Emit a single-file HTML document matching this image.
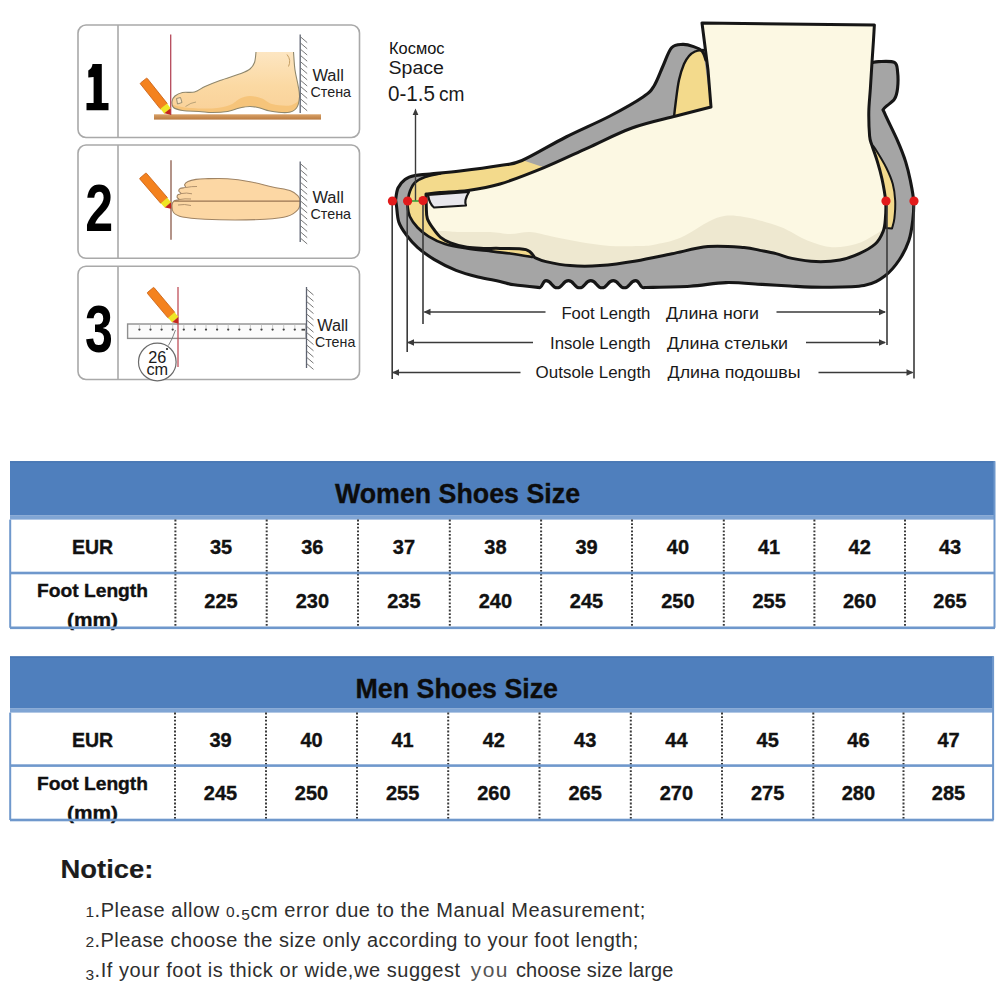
<!DOCTYPE html>
<html><head><meta charset="utf-8">
<style>
html,body{margin:0;padding:0;background:#fff;}
body{width:1000px;height:1000px;position:relative;overflow:hidden;font-family:"Liberation Sans",sans-serif;}
svg{position:absolute;left:0;top:0;display:block;}
</style></head><body>
<svg width="1000" height="1000" viewBox="0 0 1000 1000">
<rect x="0" y="0" width="1000" height="1000" fill="#fff"/>
<rect x="78" y="25" width="281.5" height="112.5" rx="8" ry="8" fill="#fff" stroke="#a9a9a9" stroke-width="1.6"/><line x1="118" y1="25" x2="118" y2="137.5" stroke="#a9a9a9" stroke-width="1.6"/><rect x="78" y="145" width="281.5" height="113.30000000000001" rx="8" ry="8" fill="#fff" stroke="#a9a9a9" stroke-width="1.6"/><line x1="118" y1="145" x2="118" y2="258.3" stroke="#a9a9a9" stroke-width="1.6"/><rect x="78" y="266.2" width="281.5" height="113.30000000000001" rx="8" ry="8" fill="#fff" stroke="#a9a9a9" stroke-width="1.6"/><line x1="118" y1="266.2" x2="118" y2="379.5" stroke="#a9a9a9" stroke-width="1.6"/><path d="M92.5,64 L101.8,64 L101.8,103 L108.5,103 L108.5,110.2 L86.5,110.2 L86.5,103 L93.6,103 L93.6,77 L88.3,77.5 L88.3,70.5 Q92,68.5 92.5,64 Z" fill="#000"/><text x="99.3" y="230.6" font-family="Liberation Sans, sans-serif" font-weight="bold" font-size="66" text-anchor="middle" fill="#000" transform="translate(99.3 0) scale(0.76 1) translate(-99.3 0)">2</text><text x="99" y="352.4" font-family="Liberation Sans, sans-serif" font-weight="bold" font-size="66" text-anchor="middle" fill="#000" transform="translate(99 0) scale(0.76 1) translate(-99 0)">3</text>
<defs><linearGradient id="fg1" x1="0" y1="0" x2="0" y2="1"><stop offset="0" stop-color="#fde6c2"/><stop offset="0.55" stop-color="#fbd9a3"/><stop offset="1" stop-color="#f9d199"/></linearGradient>
<linearGradient id="flr" x1="0" y1="0" x2="0" y2="1"><stop offset="0" stop-color="#d9a268"/><stop offset="1" stop-color="#b97a40"/></linearGradient>
<clipPath id="f1c"><path d="M256.0,52.0 C255.8,53.8 255.5,59.7 254.5,62.5 C253.5,65.3 252.2,67.2 250.0,69.0 C247.8,70.8 246.0,71.6 241.0,73.5 C236.0,75.4 226.0,78.3 220.0,80.5 C214.0,82.7 209.2,84.6 205.0,86.5 C200.8,88.4 198.2,91.0 194.5,92.0 C190.8,93.0 185.8,91.8 182.5,92.5 C179.2,93.2 176.8,94.5 175.0,96.0 C173.2,97.5 172.2,99.6 172.0,101.5 C171.8,103.4 171.8,106.0 173.5,107.5 C175.2,109.0 178.2,109.8 182.5,110.5 C186.8,111.2 194.0,111.2 199.0,111.5 C204.0,111.8 207.8,112.5 212.5,112.5 C217.2,112.5 223.0,112.2 227.5,111.5 C232.0,110.8 235.8,108.8 239.5,108.0 C243.2,107.2 246.6,106.5 250.0,106.5 C253.4,106.5 256.7,107.2 260.0,108.0 C263.3,108.8 265.4,110.2 270.0,111.0 C274.6,111.8 283.1,113.0 287.5,112.5 C291.9,112.0 294.5,110.6 296.5,108.0 C298.5,105.4 299.2,100.8 299.5,97.0 C299.8,93.2 298.8,89.5 298.0,85.0 C297.2,80.5 295.8,75.5 295.0,70.0 C294.2,64.5 293.8,55.0 293.5,52.0 Z"/></clipPath></defs>
<path d="M256.0,52.0 C255.8,53.8 255.5,59.7 254.5,62.5 C253.5,65.3 252.2,67.2 250.0,69.0 C247.8,70.8 246.0,71.6 241.0,73.5 C236.0,75.4 226.0,78.3 220.0,80.5 C214.0,82.7 209.2,84.6 205.0,86.5 C200.8,88.4 198.2,91.0 194.5,92.0 C190.8,93.0 185.8,91.8 182.5,92.5 C179.2,93.2 176.8,94.5 175.0,96.0 C173.2,97.5 172.2,99.6 172.0,101.5 C171.8,103.4 171.8,106.0 173.5,107.5 C175.2,109.0 178.2,109.8 182.5,110.5 C186.8,111.2 194.0,111.2 199.0,111.5 C204.0,111.8 207.8,112.5 212.5,112.5 C217.2,112.5 223.0,112.2 227.5,111.5 C232.0,110.8 235.8,108.8 239.5,108.0 C243.2,107.2 246.6,106.5 250.0,106.5 C253.4,106.5 256.7,107.2 260.0,108.0 C263.3,108.8 265.4,110.2 270.0,111.0 C274.6,111.8 283.1,113.0 287.5,112.5 C291.9,112.0 294.5,110.6 296.5,108.0 C298.5,105.4 299.2,100.8 299.5,97.0 C299.8,93.2 298.8,89.5 298.0,85.0 C297.2,80.5 295.8,75.5 295.0,70.0 C294.2,64.5 293.8,55.0 293.5,52.0 Z" fill="url(#fg1)"/>
<path d="M170.0,104.0 C172.5,104.6 178.0,106.8 185.0,107.5 C192.0,108.2 204.5,108.9 212.0,108.5 C219.5,108.1 225.3,106.7 230.0,105.0 C234.7,103.3 236.7,100.0 240.0,98.5 C243.3,97.0 246.3,96.0 250.0,96.0 C253.7,96.0 258.3,97.2 262.0,98.5 C265.7,99.8 267.3,102.8 272.0,104.0 C276.7,105.2 285.2,106.3 290.0,105.5 C294.8,104.7 299.2,100.1 301.0,99.0 L301.0,120.0 L170.0,120.0 Z" fill="#f6c47a" clip-path="url(#f1c)"/>
<path d="M256.0,52.0 C255.8,53.8 255.5,59.7 254.5,62.5 C253.5,65.3 252.2,67.2 250.0,69.0 C247.8,70.8 246.0,71.6 241.0,73.5 C236.0,75.4 226.0,78.3 220.0,80.5 C214.0,82.7 209.2,84.6 205.0,86.5 C200.8,88.4 198.2,91.0 194.5,92.0 C190.8,93.0 185.8,91.8 182.5,92.5 C179.2,93.2 176.8,94.5 175.0,96.0 C173.2,97.5 172.2,99.6 172.0,101.5 C171.8,103.4 171.8,106.0 173.5,107.5 C175.2,109.0 178.2,109.8 182.5,110.5 C186.8,111.2 194.0,111.2 199.0,111.5 C204.0,111.8 207.8,112.5 212.5,112.5 C217.2,112.5 223.0,112.2 227.5,111.5 C232.0,110.8 235.8,108.8 239.5,108.0 C243.2,107.2 246.6,106.5 250.0,106.5 C253.4,106.5 256.7,107.2 260.0,108.0 C263.3,108.8 265.4,110.2 270.0,111.0 C274.6,111.8 283.1,113.0 287.5,112.5 C291.9,112.0 294.5,110.6 296.5,108.0 C298.5,105.4 299.2,100.8 299.5,97.0 C299.8,93.2 298.8,89.5 298.0,85.0 C297.2,80.5 295.8,75.5 295.0,70.0 C294.2,64.5 293.8,55.0 293.5,52.0" fill="none" stroke="#8f876c" stroke-width="1.1"/>
<path d="M176.5,98.5 L180.5,97.5 L182,102.5 L177.5,104 Z" fill="#fde4bf" stroke="#8f876c" stroke-width="0.9" stroke-linejoin="round"/>
<path d="M185.5,106.5 Q191,102.5 196,102" fill="none" stroke="#a8946c" stroke-width="0.8"/>
<path d="M287,54.5 Q291.5,60 288.5,66.5" fill="none" stroke="#c7a064" stroke-width="1"/>
<rect x="154" y="114.3" width="167" height="5.3" fill="url(#flr)"/>
<line x1="170.7" y1="34.6" x2="170.7" y2="115" stroke="#b5485a" stroke-width="1.3"/><line x1="300.2" y1="34.6" x2="300.2" y2="113" stroke="#5c6270" stroke-width="1.3"/><line x1="300.2" y1="36.6" x2="307.2" y2="42.6" stroke="#777" stroke-width="1"/><line x1="300.2" y1="42.8" x2="307.2" y2="48.8" stroke="#777" stroke-width="1"/><line x1="300.2" y1="49" x2="307.2" y2="55" stroke="#777" stroke-width="1"/><line x1="300.2" y1="55.2" x2="307.2" y2="61.2" stroke="#777" stroke-width="1"/><line x1="300.2" y1="61.4" x2="307.2" y2="67.4" stroke="#777" stroke-width="1"/><line x1="300.2" y1="67.6" x2="307.2" y2="73.6" stroke="#777" stroke-width="1"/><line x1="300.2" y1="73.8" x2="307.2" y2="79.8" stroke="#777" stroke-width="1"/><line x1="300.2" y1="80" x2="307.2" y2="86" stroke="#777" stroke-width="1"/><line x1="300.2" y1="86.2" x2="307.2" y2="92.2" stroke="#777" stroke-width="1"/><line x1="300.2" y1="92.4" x2="307.2" y2="98.4" stroke="#777" stroke-width="1"/><line x1="300.2" y1="98.6" x2="307.2" y2="104.6" stroke="#777" stroke-width="1"/><line x1="300.2" y1="104.8" x2="307.2" y2="110.8" stroke="#777" stroke-width="1"/><g transform="translate(170.2,114.3) rotate(51.5)">
<rect x="-43" y="-4.4" width="33" height="8.8" rx="0.8" fill="#f4821e" stroke="#c9641a" stroke-width="0.8"/>
<rect x="-10.4" y="-4.2" width="6.2" height="8.4" fill="#efe626"/>
<path d="M-4.4,-4 L0.6,0 L-4.4,4 Z" fill="#c4261c"/>
</g><text x="312.4" y="81" font-family="Liberation Sans, sans-serif" font-size="16" fill="#222" textLength="31.4" lengthAdjust="spacingAndGlyphs">Wall</text><text x="310.5" y="97.4" font-family="Liberation Sans, sans-serif" font-size="14.8" fill="#222" textLength="40.5" lengthAdjust="spacingAndGlyphs">Стена</text><path d="M172.0,205.0 C172.1,203.1 172.8,201.9 174.0,201.0 C175.2,200.1 178.5,200.2 179.0,199.6 C179.5,199.0 177.4,198.3 177.2,197.5 C177.0,196.7 177.2,195.5 177.8,194.8 C178.4,194.2 180.8,194.2 181.0,193.6 C181.2,193.0 178.9,191.9 178.8,191.0 C178.7,190.1 179.4,188.9 180.5,188.3 C181.6,187.7 184.8,188.0 185.5,187.4 C186.2,186.8 184.2,185.6 184.6,184.6 C185.0,183.6 186.1,182.5 188.0,181.6 C189.9,180.7 193.2,179.9 196.0,179.4 C198.8,178.9 199.8,178.8 205.0,178.7 C210.2,178.6 220.0,178.2 227.5,178.7 C235.0,179.2 242.5,180.3 250.0,181.7 C257.5,183.1 265.8,185.5 272.5,187.0 C279.2,188.5 286.2,189.2 290.5,190.7 C294.8,192.2 296.4,194.2 298.0,196.0 C299.6,197.8 300.2,198.9 300.2,201.2 C300.2,203.4 300.1,207.0 298.0,209.5 C295.9,212.0 293.0,214.6 287.5,216.2 C282.0,217.8 273.8,218.6 265.0,219.2 C256.2,219.8 245.0,220.0 235.0,220.0 C225.0,220.0 213.8,219.7 205.0,219.2 C196.2,218.7 187.8,218.1 182.5,217.0 C177.2,215.9 175.2,214.5 173.5,212.5 C171.8,210.5 171.9,206.9 172.0,205.0 Z" fill="#fcd7a4" stroke="#a08464" stroke-width="1.1"/><path d="M186,187.5 Q191.5,186.3 197,186.5" fill="none" stroke="#a98a66" stroke-width="0.9"/><path d="M181,193.6 Q186.5,192.4 192,193.8" fill="none" stroke="#a98a66" stroke-width="0.9"/><path d="M179,199.6 Q185.0,198.4 191,199" fill="none" stroke="#a98a66" stroke-width="0.9"/><path d="M178,205 Q184.5,203.8 191,205.5" fill="none" stroke="#a98a66" stroke-width="0.9"/><line x1="174.3" y1="201.2" x2="300.2" y2="201.2" stroke="#9a7452" stroke-width="1.3"/><line x1="171" y1="160.3" x2="171" y2="239.7" stroke="#8a5a4a" stroke-width="1.3"/><line x1="300.2" y1="161.5" x2="300.2" y2="242" stroke="#5c6270" stroke-width="1.3"/><line x1="300.2" y1="163.5" x2="307.2" y2="169.5" stroke="#777" stroke-width="1"/><line x1="300.2" y1="169.7" x2="307.2" y2="175.7" stroke="#777" stroke-width="1"/><line x1="300.2" y1="175.9" x2="307.2" y2="181.9" stroke="#777" stroke-width="1"/><line x1="300.2" y1="182.1" x2="307.2" y2="188.1" stroke="#777" stroke-width="1"/><line x1="300.2" y1="188.3" x2="307.2" y2="194.3" stroke="#777" stroke-width="1"/><line x1="300.2" y1="194.5" x2="307.2" y2="200.5" stroke="#777" stroke-width="1"/><line x1="300.2" y1="200.7" x2="307.2" y2="206.7" stroke="#777" stroke-width="1"/><line x1="300.2" y1="206.9" x2="307.2" y2="212.9" stroke="#777" stroke-width="1"/><line x1="300.2" y1="213.1" x2="307.2" y2="219.1" stroke="#777" stroke-width="1"/><line x1="300.2" y1="219.3" x2="307.2" y2="225.3" stroke="#777" stroke-width="1"/><line x1="300.2" y1="225.5" x2="307.2" y2="231.5" stroke="#777" stroke-width="1"/><line x1="300.2" y1="231.7" x2="307.2" y2="237.7" stroke="#777" stroke-width="1"/><line x1="300.2" y1="237.9" x2="307.2" y2="243.9" stroke="#777" stroke-width="1"/><g transform="translate(170.8,208.3) rotate(49.3)">
<rect x="-43" y="-4.4" width="33" height="8.8" rx="0.8" fill="#f4821e" stroke="#c9641a" stroke-width="0.8"/>
<rect x="-10.4" y="-4.2" width="6.2" height="8.4" fill="#efe626"/>
<path d="M-4.4,-4 L0.6,0 L-4.4,4 Z" fill="#c4261c"/>
</g><text x="312.4" y="202.8" font-family="Liberation Sans, sans-serif" font-size="16" fill="#222" textLength="31.4" lengthAdjust="spacingAndGlyphs">Wall</text><text x="310.5" y="219.3" font-family="Liberation Sans, sans-serif" font-size="14.8" fill="#222" textLength="40.5" lengthAdjust="spacingAndGlyphs">Стена</text><rect x="127.6" y="324" width="178.5" height="14.4" fill="#fbfbfb" stroke="#8f8f8f" stroke-width="1.4"/><line x1="139.4" y1="324.6" x2="139.4" y2="328.5" stroke="#c4c4c4" stroke-width="0.9"/><circle cx="139.4" cy="329.6" r="1.15" fill="#444"/><line x1="150.5" y1="324.6" x2="150.5" y2="328.5" stroke="#c4c4c4" stroke-width="0.9"/><circle cx="150.5" cy="329.6" r="1.15" fill="#444"/><line x1="161.6" y1="324.6" x2="161.6" y2="328.5" stroke="#c4c4c4" stroke-width="0.9"/><circle cx="161.6" cy="329.6" r="1.15" fill="#444"/><line x1="172.7" y1="324.6" x2="172.7" y2="328.5" stroke="#c4c4c4" stroke-width="0.9"/><circle cx="172.7" cy="329.6" r="1.15" fill="#444"/><line x1="183.8" y1="324.6" x2="183.8" y2="328.5" stroke="#c4c4c4" stroke-width="0.9"/><circle cx="183.8" cy="329.6" r="1.15" fill="#444"/><line x1="194.9" y1="324.6" x2="194.9" y2="328.5" stroke="#c4c4c4" stroke-width="0.9"/><circle cx="194.9" cy="329.6" r="1.15" fill="#444"/><line x1="206" y1="324.6" x2="206" y2="328.5" stroke="#c4c4c4" stroke-width="0.9"/><circle cx="206" cy="329.6" r="1.15" fill="#444"/><line x1="217.1" y1="324.6" x2="217.1" y2="328.5" stroke="#c4c4c4" stroke-width="0.9"/><circle cx="217.1" cy="329.6" r="1.15" fill="#444"/><line x1="228.2" y1="324.6" x2="228.2" y2="328.5" stroke="#c4c4c4" stroke-width="0.9"/><circle cx="228.2" cy="329.6" r="1.15" fill="#444"/><line x1="239.3" y1="324.6" x2="239.3" y2="328.5" stroke="#c4c4c4" stroke-width="0.9"/><circle cx="239.3" cy="329.6" r="1.15" fill="#444"/><line x1="250.4" y1="324.6" x2="250.4" y2="328.5" stroke="#c4c4c4" stroke-width="0.9"/><circle cx="250.4" cy="329.6" r="1.15" fill="#444"/><line x1="261.5" y1="324.6" x2="261.5" y2="328.5" stroke="#c4c4c4" stroke-width="0.9"/><circle cx="261.5" cy="329.6" r="1.15" fill="#444"/><line x1="272.6" y1="324.6" x2="272.6" y2="328.5" stroke="#c4c4c4" stroke-width="0.9"/><circle cx="272.6" cy="329.6" r="1.15" fill="#444"/><line x1="283.7" y1="324.6" x2="283.7" y2="328.5" stroke="#c4c4c4" stroke-width="0.9"/><circle cx="283.7" cy="329.6" r="1.15" fill="#444"/><line x1="294.8" y1="324.6" x2="294.8" y2="328.5" stroke="#c4c4c4" stroke-width="0.9"/><circle cx="294.8" cy="329.6" r="1.15" fill="#444"/><rect x="301.5" y="328.8" width="3.5" height="1.8" fill="#444"/><line x1="178" y1="287" x2="178" y2="367" stroke="#c0505a" stroke-width="1.3"/><path d="M175.5,330 Q172,340 168.4,345.5" fill="none" stroke="#777" stroke-width="0.9"/><circle cx="157.3" cy="362" r="18.8" fill="#fff" stroke="#6a6a6a" stroke-width="1.2"/><circle cx="167" cy="349" r="1.1" fill="#222"/><text x="157.2" y="362.9" font-family="Liberation Sans, sans-serif" font-size="16.3" fill="#1a1a1a" text-anchor="middle">26</text><text x="157.3" y="374.6" font-family="Liberation Sans, sans-serif" font-size="16.3" fill="#1a1a1a" text-anchor="middle">cm</text><line x1="306.5" y1="287" x2="306.5" y2="368" stroke="#5c6270" stroke-width="1.3"/><line x1="306.5" y1="289" x2="313.5" y2="295" stroke="#777" stroke-width="1"/><line x1="306.5" y1="295.2" x2="313.5" y2="301.2" stroke="#777" stroke-width="1"/><line x1="306.5" y1="301.4" x2="313.5" y2="307.4" stroke="#777" stroke-width="1"/><line x1="306.5" y1="307.6" x2="313.5" y2="313.6" stroke="#777" stroke-width="1"/><line x1="306.5" y1="313.8" x2="313.5" y2="319.8" stroke="#777" stroke-width="1"/><line x1="306.5" y1="320" x2="313.5" y2="326" stroke="#777" stroke-width="1"/><line x1="306.5" y1="326.2" x2="313.5" y2="332.2" stroke="#777" stroke-width="1"/><line x1="306.5" y1="332.4" x2="313.5" y2="338.4" stroke="#777" stroke-width="1"/><line x1="306.5" y1="338.6" x2="313.5" y2="344.6" stroke="#777" stroke-width="1"/><line x1="306.5" y1="344.8" x2="313.5" y2="350.8" stroke="#777" stroke-width="1"/><line x1="306.5" y1="351" x2="313.5" y2="357" stroke="#777" stroke-width="1"/><line x1="306.5" y1="357.2" x2="313.5" y2="363.2" stroke="#777" stroke-width="1"/><line x1="306.5" y1="363.4" x2="313.5" y2="369.4" stroke="#777" stroke-width="1"/><g transform="translate(178,323) rotate(50)">
<rect x="-43" y="-4.4" width="33" height="8.8" rx="0.8" fill="#f4821e" stroke="#c9641a" stroke-width="0.8"/>
<rect x="-10.4" y="-4.2" width="6.2" height="8.4" fill="#efe626"/>
<path d="M-4.4,-4 L0.6,0 L-4.4,4 Z" fill="#c4261c"/>
</g><text x="317.2" y="330.8" font-family="Liberation Sans, sans-serif" font-size="16" fill="#222" textLength="31" lengthAdjust="spacingAndGlyphs">Wall</text><text x="315" y="347.3" font-family="Liberation Sans, sans-serif" font-size="14.8" fill="#222" textLength="40.3" lengthAdjust="spacingAndGlyphs">Стена</text>

<defs><clipPath id="footclip"><path d="M426.0,194.0 C428.3,193.8 433.0,193.1 440.0,192.5 C447.0,191.9 458.0,191.9 468.0,190.5 C478.0,189.1 487.3,187.8 500.0,184.0 C512.7,180.2 529.3,173.6 544.0,167.6 C558.7,161.6 573.3,154.4 588.0,147.8 C602.7,141.2 617.3,133.3 632.0,128.0 C646.7,122.7 662.8,119.5 676.0,116.0 C689.2,112.5 705.2,108.5 711.0,107.0 L708.0,70.0 L702.0,23.0 L874.4,25.0 L874.4,25.0 C874.2,27.5 873.9,33.8 873.5,40.0 C873.1,46.2 872.5,54.4 872.0,62.4 C871.5,70.4 870.9,79.7 870.4,88.0 C869.9,96.3 868.9,104.0 868.8,112.0 C868.7,120.0 869.1,130.4 869.6,136.0 C870.1,141.6 870.7,141.3 872.0,145.6 C873.3,149.9 875.7,156.0 877.4,161.6 C879.1,167.2 880.6,172.5 882.0,179.0 C883.4,185.5 885.0,194.2 885.6,200.8 C886.2,207.4 885.8,213.3 885.4,218.4 C885.0,223.5 884.9,226.9 883.2,231.2 C881.5,235.5 879.2,240.3 875.2,244.0 C871.2,247.7 865.1,250.9 859.2,253.6 C853.3,256.3 847.2,258.7 840.0,260.0 C832.8,261.3 824.0,261.9 816.0,261.6 C808.0,261.3 798.7,259.7 792.0,258.4 C785.3,257.1 781.3,254.9 776.0,253.6 C770.7,252.3 765.3,251.4 760.0,250.4 C754.7,249.4 752.7,248.1 744.0,247.5 C735.3,246.9 720.0,245.5 708.0,246.6 C696.0,247.7 684.0,251.4 672.0,253.8 C660.0,256.2 648.0,259.0 636.0,261.0 C624.0,263.0 611.0,264.8 600.0,265.6 C589.0,266.4 579.0,266.3 570.0,265.6 C561.0,264.9 551.9,262.9 546.0,261.6 C540.1,260.3 536.7,258.3 534.8,257.6 L534.8,257.6 C533.3,256.3 531.8,251.1 526.0,249.6 C520.2,248.1 507.1,248.6 500.0,248.4 C492.9,248.2 489.0,248.6 483.5,248.4 C478.0,248.2 472.5,248.2 467.0,247.3 C461.5,246.4 454.9,244.6 450.5,242.9 C446.1,241.2 443.4,239.6 440.6,237.4 C437.9,235.2 436.2,232.8 434.0,229.7 C431.8,226.6 428.7,222.5 427.4,218.7 C426.1,214.8 426.5,210.7 426.3,206.6 C426.1,202.5 426.1,196.1 426.0,194.0 Z"/></clipPath></defs>
<path d="M395.6,200.0 C396.0,198.0 396.4,191.4 398.0,188.0 C399.6,184.6 402.2,181.6 405.0,179.5 C407.8,177.4 410.8,176.4 415.0,175.5 C419.2,174.6 422.5,174.8 430.0,174.0 C437.5,173.2 448.3,172.4 460.0,171.0 C471.7,169.6 489.7,167.2 500.0,165.5 C510.3,163.8 511.0,165.2 522.0,160.5 C533.0,155.8 551.3,144.4 566.0,137.0 C580.7,129.6 597.2,122.7 610.0,116.0 C622.8,109.3 635.7,102.0 643.0,97.0 C650.3,92.0 650.7,91.2 654.0,86.0 C657.3,80.8 660.1,72.4 663.0,66.0 C665.9,59.6 668.3,51.3 671.6,47.7 C674.9,44.1 678.9,44.6 682.6,44.4 C686.3,44.2 690.4,45.5 693.6,46.6 C696.8,47.7 699.9,48.8 702.0,51.0 C704.1,53.2 705.3,58.5 706.0,60.0 L870.0,60.0 L870.0,60.0 C870.5,60.4 871.4,62.1 872.8,62.4 C874.2,62.7 874.8,61.6 878.4,61.6 C882.0,61.6 891.2,60.7 894.4,62.4 C897.6,64.1 897.1,67.7 897.6,72.0 C898.1,76.3 898.1,83.5 897.6,88.0 C897.1,92.5 896.7,95.8 894.4,99.2 C892.1,102.6 885.6,106.1 884.0,108.5 C882.4,110.9 882.5,108.2 884.8,113.6 C887.1,119.0 894.1,132.8 897.6,140.8 C901.1,148.8 903.5,154.9 905.6,161.6 C907.7,168.3 909.1,174.3 910.4,180.8 C911.7,187.3 913.2,194.3 913.6,200.8 C914.0,207.3 913.6,213.3 912.8,220.0 C912.0,226.7 911.1,234.1 908.8,240.8 C906.5,247.5 903.2,254.1 899.2,260.0 C895.2,265.9 890.7,271.7 884.8,276.0 C878.9,280.3 874.1,283.7 864.0,285.6 C853.9,287.5 836.3,287.1 824.0,287.2 C811.7,287.3 800.3,286.5 790.0,286.0 C779.7,285.5 772.7,285.0 762.0,284.4 C751.3,283.8 738.0,282.3 726.0,282.6 C714.0,282.9 703.5,285.4 690.0,286.2 C676.5,287.0 652.5,287.3 645.0,287.5 L643.8,287.8 C639.7,287.8 639.7,280.6 635.6,280.6 C630.0,280.6 630.0,287.8 624.4,287.8 C618.8,287.8 618.8,280.6 613.2,280.6 C607.6,280.6 607.6,287.8 602.0,287.8 C596.4,287.8 596.4,280.6 590.8,280.6 C585.2,280.6 585.2,287.8 579.6,287.8 C574.0,287.8 574.0,280.6 568.4,280.6 C562.8,280.6 562.8,287.8 557.2,287.8 C551.6,287.8 551.6,280.6 546.0,280.6 C542.6,280.6 542.6,287.8 539.2,287.8 L539.6,287.5 C535.3,287.1 520.6,285.8 514.0,284.8 C507.4,283.8 506.0,282.7 500.0,281.4 C494.0,280.1 485.3,278.8 478.0,277.0 C470.7,275.2 463.3,273.3 456.0,270.4 C448.7,267.5 440.4,263.2 434.0,259.4 C427.6,255.5 422.1,251.3 417.5,247.3 C412.9,243.3 409.6,239.4 406.5,235.2 C403.4,231.0 400.4,226.8 398.8,222.0 C397.2,217.2 397.1,210.3 396.6,206.6 C396.1,202.9 395.8,201.1 395.6,200.0 Z" fill="#a5a5a5"/>
<path d="M674.0,117.0 C674.3,114.2 675.2,106.2 676.0,100.0 C676.8,93.8 677.7,86.0 679.0,80.0 C680.3,74.0 682.3,68.0 684.0,64.0 C685.7,60.0 687.2,58.1 689.0,56.0 C690.8,53.9 692.7,52.5 695.0,51.5 C697.3,50.5 701.7,50.2 703.0,50.0 L711.0,107.0 Z" fill="#f3da8c"/>
<path d="M674.0,117.0 C674.3,114.2 675.2,106.2 676.0,100.0 C676.8,93.8 677.7,86.0 679.0,80.0 C680.3,74.0 682.3,68.0 684.0,64.0 C685.7,60.0 687.2,58.1 689.0,56.0 C690.8,53.9 692.7,52.5 695.0,51.5 C697.3,50.5 701.7,50.2 703.0,50.0" fill="none" stroke="#161616" stroke-width="2.4" stroke-linecap="round"/>
<path d="M440.0,173.5 C437.5,174.1 429.2,175.5 425.0,177.0 C420.8,178.5 417.5,180.2 415.0,182.5 C412.5,184.8 411.2,188.1 410.0,191.0 C408.8,193.9 408.4,197.4 408.0,200.0 C407.6,202.6 407.3,203.8 407.6,206.6 C407.9,209.3 408.2,213.0 409.8,216.5 C411.4,220.0 414.4,224.2 417.5,227.5 C420.6,230.8 423.9,233.6 428.5,236.3 C433.1,239.1 438.6,242.0 445.0,244.0 C451.4,246.0 459.7,247.2 467.0,248.4 C474.3,249.6 481.8,250.2 489.0,251.0 C496.2,251.8 502.8,252.5 510.0,253.5 C517.2,254.5 528.7,256.4 532.4,257.0 L560.0,230.0 L546.0,168.0 L522.0,160.0 L522.0,160.5 C518.3,161.3 510.3,163.8 500.0,165.5 C489.7,167.2 470.0,169.7 460.0,171.0 C450.0,172.3 443.3,173.1 440.0,173.5 Z" fill="#f3da8c"/>
<path d="M872.0,145.0 C872.5,145.6 872.8,145.0 875.2,148.8 C877.6,152.6 883.5,162.1 886.4,168.0 C889.3,173.9 891.3,178.5 892.8,184.0 C894.3,189.5 894.9,195.1 895.2,200.8 C895.5,206.5 894.9,213.8 894.4,218.4 C893.9,223.0 892.4,226.8 892.0,228.5 L886.0,228.0 L886.0,228.0 C885.7,223.3 885.3,208.8 884.0,200.0 C882.7,191.2 881.0,183.3 878.0,175.0 C875.0,166.7 868.0,154.2 866.0,150.0 Z" fill="#f3da8c" stroke="#161616" stroke-width="2" stroke-linejoin="round"/>
<path d="M426.0,194.0 C428.3,193.8 433.0,193.1 440.0,192.5 C447.0,191.9 458.0,191.9 468.0,190.5 C478.0,189.1 487.3,187.8 500.0,184.0 C512.7,180.2 529.3,173.6 544.0,167.6 C558.7,161.6 573.3,154.4 588.0,147.8 C602.7,141.2 617.3,133.3 632.0,128.0 C646.7,122.7 662.8,119.5 676.0,116.0 C689.2,112.5 705.2,108.5 711.0,107.0 L708.0,70.0 L702.0,23.0 L874.4,25.0 L874.4,25.0 C874.2,27.5 873.9,33.8 873.5,40.0 C873.1,46.2 872.5,54.4 872.0,62.4 C871.5,70.4 870.9,79.7 870.4,88.0 C869.9,96.3 868.9,104.0 868.8,112.0 C868.7,120.0 869.1,130.4 869.6,136.0 C870.1,141.6 870.7,141.3 872.0,145.6 C873.3,149.9 875.7,156.0 877.4,161.6 C879.1,167.2 880.6,172.5 882.0,179.0 C883.4,185.5 885.0,194.2 885.6,200.8 C886.2,207.4 885.8,213.3 885.4,218.4 C885.0,223.5 884.9,226.9 883.2,231.2 C881.5,235.5 879.2,240.3 875.2,244.0 C871.2,247.7 865.1,250.9 859.2,253.6 C853.3,256.3 847.2,258.7 840.0,260.0 C832.8,261.3 824.0,261.9 816.0,261.6 C808.0,261.3 798.7,259.7 792.0,258.4 C785.3,257.1 781.3,254.9 776.0,253.6 C770.7,252.3 765.3,251.4 760.0,250.4 C754.7,249.4 752.7,248.1 744.0,247.5 C735.3,246.9 720.0,245.5 708.0,246.6 C696.0,247.7 684.0,251.4 672.0,253.8 C660.0,256.2 648.0,259.0 636.0,261.0 C624.0,263.0 611.0,264.8 600.0,265.6 C589.0,266.4 579.0,266.3 570.0,265.6 C561.0,264.9 551.9,262.9 546.0,261.6 C540.1,260.3 536.7,258.3 534.8,257.6 L534.8,257.6 C533.3,256.3 531.8,251.1 526.0,249.6 C520.2,248.1 507.1,248.6 500.0,248.4 C492.9,248.2 489.0,248.6 483.5,248.4 C478.0,248.2 472.5,248.2 467.0,247.3 C461.5,246.4 454.9,244.6 450.5,242.9 C446.1,241.2 443.4,239.6 440.6,237.4 C437.9,235.2 436.2,232.8 434.0,229.7 C431.8,226.6 428.7,222.5 427.4,218.7 C426.1,214.8 426.5,210.7 426.3,206.6 C426.1,202.5 426.1,196.1 426.0,194.0 Z" fill="#fcf8e3"/>
<path d="M436.0,231.0 C437.3,231.0 440.0,230.8 444.0,231.0 C448.0,231.2 452.3,231.8 460.0,232.0 C467.7,232.2 481.7,231.7 490.0,232.0 C498.3,232.3 503.3,234.0 510.0,234.0 C516.7,234.0 523.3,231.7 530.0,232.0 C536.7,232.3 541.7,234.3 550.0,236.0 C558.3,237.7 570.0,240.3 580.0,242.0 C590.0,243.7 600.0,245.3 610.0,246.0 C620.0,246.7 632.7,246.2 640.0,246.0 C647.3,245.8 647.2,246.2 654.0,244.8 C660.8,243.4 670.5,242.1 681.0,237.6 C691.5,233.1 706.5,221.2 717.0,217.8 C727.5,214.4 733.5,215.4 744.0,216.9 C754.5,218.4 769.3,222.8 780.0,226.8 C790.7,230.8 799.3,237.4 808.0,240.8 C816.7,244.2 824.0,246.7 832.0,247.2 C840.0,247.7 848.8,246.1 856.0,244.0 C863.2,241.9 869.9,237.4 875.2,234.4 C880.5,231.4 885.9,227.4 888.0,226.0 L888.0,300.0 L430.0,300.0 Z" fill="#eee8d0" clip-path="url(#footclip)"/>
<path d="M395.6,200.0 C396.0,198.0 396.4,191.4 398.0,188.0 C399.6,184.6 402.2,181.6 405.0,179.5 C407.8,177.4 410.8,176.4 415.0,175.5 C419.2,174.6 422.5,174.8 430.0,174.0 C437.5,173.2 448.3,172.4 460.0,171.0 C471.7,169.6 489.7,167.2 500.0,165.5 C510.3,163.8 511.0,165.2 522.0,160.5 C533.0,155.8 551.3,144.4 566.0,137.0 C580.7,129.6 597.2,122.7 610.0,116.0 C622.8,109.3 635.7,102.0 643.0,97.0 C650.3,92.0 650.7,91.2 654.0,86.0 C657.3,80.8 660.1,72.4 663.0,66.0 C665.9,59.6 668.3,51.3 671.6,47.7 C674.9,44.1 678.9,44.6 682.6,44.4 C686.3,44.2 690.4,45.5 693.6,46.6 C696.8,47.7 699.9,48.8 702.0,51.0 C704.1,53.2 705.3,58.5 706.0,60.0 M872.8,62.4 C873.7,62.3 874.8,61.6 878.4,61.6 C882.0,61.6 891.2,60.7 894.4,62.4 C897.6,64.1 897.1,67.7 897.6,72.0 C898.1,76.3 898.1,83.5 897.6,88.0 C897.1,92.5 896.7,95.8 894.4,99.2 C892.1,102.6 885.6,106.1 884.0,108.5 C882.4,110.9 882.5,108.2 884.8,113.6 C887.1,119.0 894.1,132.8 897.6,140.8 C901.1,148.8 903.5,154.9 905.6,161.6 C907.7,168.3 909.1,174.3 910.4,180.8 C911.7,187.3 913.2,194.3 913.6,200.8 C914.0,207.3 913.6,213.3 912.8,220.0 C912.0,226.7 911.1,234.1 908.8,240.8 C906.5,247.5 903.2,254.1 899.2,260.0 C895.2,265.9 890.7,271.7 884.8,276.0 C878.9,280.3 874.1,283.7 864.0,285.6 C853.9,287.5 836.3,287.1 824.0,287.2 C811.7,287.3 800.3,286.5 790.0,286.0 C779.7,285.5 772.7,285.0 762.0,284.4 C751.3,283.8 738.0,282.3 726.0,282.6 C714.0,282.9 703.5,285.4 690.0,286.2 C676.5,287.0 652.5,287.3 645.0,287.5 L643.8,287.8 C639.7,287.8 639.7,280.6 635.6,280.6 C630.0,280.6 630.0,287.8 624.4,287.8 C618.8,287.8 618.8,280.6 613.2,280.6 C607.6,280.6 607.6,287.8 602.0,287.8 C596.4,287.8 596.4,280.6 590.8,280.6 C585.2,280.6 585.2,287.8 579.6,287.8 C574.0,287.8 574.0,280.6 568.4,280.6 C562.8,280.6 562.8,287.8 557.2,287.8 C551.6,287.8 551.6,280.6 546.0,280.6 C542.6,280.6 542.6,287.8 539.2,287.8 L539.6,287.5 C535.3,287.1 520.6,285.8 514.0,284.8 C507.4,283.8 506.0,282.7 500.0,281.4 C494.0,280.1 485.3,278.8 478.0,277.0 C470.7,275.2 463.3,273.3 456.0,270.4 C448.7,267.5 440.4,263.2 434.0,259.4 C427.6,255.5 422.1,251.3 417.5,247.3 C412.9,243.3 409.6,239.4 406.5,235.2 C403.4,231.0 400.4,226.8 398.8,222.0 C397.2,217.2 397.1,210.3 396.6,206.6 C396.1,202.9 395.8,201.1 395.6,200.0" fill="none" stroke="#161616" stroke-width="3.1" stroke-linejoin="round" stroke-linecap="round"/>
<path d="M440.0,173.5 C437.5,174.1 429.2,175.5 425.0,177.0 C420.8,178.5 417.5,180.2 415.0,182.5 C412.5,184.8 411.2,188.1 410.0,191.0 C408.8,193.9 408.4,197.4 408.0,200.0 C407.6,202.6 407.3,203.8 407.6,206.6 C407.9,209.3 408.2,213.0 409.8,216.5 C411.4,220.0 414.4,224.2 417.5,227.5 C420.6,230.8 423.9,233.6 428.5,236.3 C433.1,239.1 438.6,242.0 445.0,244.0 C451.4,246.0 459.7,247.2 467.0,248.4 C474.3,249.6 481.8,250.2 489.0,251.0 C496.2,251.8 502.8,252.5 510.0,253.5 C517.2,254.5 528.7,256.4 532.4,257.0" fill="none" stroke="#161616" stroke-width="2.7" stroke-linecap="round"/>
<path d="M426.0,194.0 C428.3,193.8 433.0,193.1 440.0,192.5 C447.0,191.9 458.0,191.9 468.0,190.5 C478.0,189.1 487.3,187.8 500.0,184.0 C512.7,180.2 529.3,173.6 544.0,167.6 C558.7,161.6 573.3,154.4 588.0,147.8 C602.7,141.2 617.3,133.3 632.0,128.0 C646.7,122.7 662.8,119.5 676.0,116.0 C689.2,112.5 705.2,108.5 711.0,107.0 L708.0,70.0 L702.0,23.0 L874.4,25.0 L874.4,25.0 C874.2,27.5 873.9,33.8 873.5,40.0 C873.1,46.2 872.5,54.4 872.0,62.4 C871.5,70.4 870.9,79.7 870.4,88.0 C869.9,96.3 868.9,104.0 868.8,112.0 C868.7,120.0 869.1,130.4 869.6,136.0 C870.1,141.6 870.7,141.3 872.0,145.6 C873.3,149.9 875.7,156.0 877.4,161.6 C879.1,167.2 880.6,172.5 882.0,179.0 C883.4,185.5 885.0,194.2 885.6,200.8 C886.2,207.4 885.8,213.3 885.4,218.4 C885.0,223.5 884.9,226.9 883.2,231.2 C881.5,235.5 879.2,240.3 875.2,244.0 C871.2,247.7 865.1,250.9 859.2,253.6 C853.3,256.3 847.2,258.7 840.0,260.0 C832.8,261.3 824.0,261.9 816.0,261.6 C808.0,261.3 798.7,259.7 792.0,258.4 C785.3,257.1 781.3,254.9 776.0,253.6 C770.7,252.3 765.3,251.4 760.0,250.4 C754.7,249.4 752.7,248.1 744.0,247.5 C735.3,246.9 720.0,245.5 708.0,246.6 C696.0,247.7 684.0,251.4 672.0,253.8 C660.0,256.2 648.0,259.0 636.0,261.0 C624.0,263.0 611.0,264.8 600.0,265.6 C589.0,266.4 579.0,266.3 570.0,265.6 C561.0,264.9 551.9,262.9 546.0,261.6 C540.1,260.3 536.7,258.3 534.8,257.6 L534.8,257.6 C533.3,256.3 531.8,251.1 526.0,249.6 C520.2,248.1 507.1,248.6 500.0,248.4 C492.9,248.2 489.0,248.6 483.5,248.4 C478.0,248.2 472.5,248.2 467.0,247.3 C461.5,246.4 454.9,244.6 450.5,242.9 C446.1,241.2 443.4,239.6 440.6,237.4 C437.9,235.2 436.2,232.8 434.0,229.7 C431.8,226.6 428.7,222.5 427.4,218.7 C426.1,214.8 426.5,210.7 426.3,206.6 C426.1,202.5 426.1,196.1 426.0,194.0 Z" fill="none" stroke="#161616" stroke-width="3" stroke-linejoin="round"/>
<path d="M428,195 L469,192 Q466.5,196 465.5,200 Q465,203 466,205.5 L434,207.5 Q429.5,204 428,195 Z" fill="#e8e7ec" stroke="#161616" stroke-width="2.2" stroke-linejoin="round"/>

<line x1="392.2" y1="201" x2="392.2" y2="379" stroke="#3a3a3a" stroke-width="1.6"/><line x1="407.2" y1="201" x2="407.2" y2="352" stroke="#3a3a3a" stroke-width="1.6"/><line x1="423" y1="201" x2="423" y2="324" stroke="#3a3a3a" stroke-width="1.6"/><line x1="887" y1="201" x2="887" y2="345" stroke="#3a3a3a" stroke-width="1.6"/><line x1="914" y1="201" x2="914" y2="378.5" stroke="#3a3a3a" stroke-width="1.6"/><line x1="415.5" y1="112" x2="415.5" y2="201" stroke="#3a3a3a" stroke-width="1.4"/><path d="M415.5,108.5 L412.6,115 L418.4,115 Z" fill="#3a3a3a"/><line x1="408" y1="201" x2="423" y2="201" stroke="#3aa03a" stroke-width="1.6"/><line x1="424.5" y1="312" x2="545.5" y2="312" stroke="#3a3a3a" stroke-width="1.6"/><path d="M423.5,312 L430.5,308.8 L430.5,315.2 Z" fill="#3a3a3a"/><line x1="776.5" y1="312" x2="885" y2="312" stroke="#3a3a3a" stroke-width="1.6"/><path d="M886,312 L879,308.8 L879,315.2 Z" fill="#3a3a3a"/><line x1="408" y1="342.5" x2="533" y2="342.5" stroke="#3a3a3a" stroke-width="1.6"/><path d="M407,342.5 L414,339.3 L414,345.7 Z" fill="#3a3a3a"/><line x1="806" y1="342.5" x2="885" y2="342.5" stroke="#3a3a3a" stroke-width="1.6"/><path d="M886,342.5 L879,339.3 L879,345.7 Z" fill="#3a3a3a"/><line x1="393" y1="372.5" x2="520.5" y2="372.5" stroke="#3a3a3a" stroke-width="1.6"/><path d="M392,372.5 L399,369.3 L399,375.7 Z" fill="#3a3a3a"/><line x1="818.5" y1="372.5" x2="912.5" y2="372.5" stroke="#3a3a3a" stroke-width="1.6"/><path d="M913.5,372.5 L906.5,369.3 L906.5,375.7 Z" fill="#3a3a3a"/><circle cx="392.4" cy="201" r="4.6" fill="#e21b1b"/><circle cx="407.6" cy="201" r="4.6" fill="#e21b1b"/><circle cx="423" cy="200.6" r="4.6" fill="#e21b1b"/><circle cx="886" cy="201" r="4.6" fill="#e21b1b"/><circle cx="914" cy="201" r="4.6" fill="#e21b1b"/>

<text x="389" y="54" font-family="Liberation Sans, sans-serif" font-size="17" fill="#111" textLength="55.5" lengthAdjust="spacingAndGlyphs">Космос</text>
<text x="388.5" y="74" font-family="Liberation Sans, sans-serif" font-size="17.5" fill="#1a1a1a" textLength="55.5" lengthAdjust="spacingAndGlyphs">Space</text>
<text x="388" y="101" font-family="Liberation Sans, sans-serif" font-size="21.5" fill="#1a1a1a" textLength="47" lengthAdjust="spacingAndGlyphs">0-1.5</text>
<text x="439" y="101" font-family="Liberation Sans, sans-serif" font-size="19.5" fill="#1a1a1a" textLength="25.5" lengthAdjust="spacingAndGlyphs">cm</text>
<text x="561.4" y="318.5" font-family="Liberation Sans, sans-serif" font-size="16.7" fill="#1a1a1a" textLength="89" lengthAdjust="spacingAndGlyphs">Foot Length</text>
<text x="666" y="318.5" font-family="Liberation Sans, sans-serif" font-size="16.7" fill="#1a1a1a" textLength="93" lengthAdjust="spacingAndGlyphs">Длина ноги</text>
<text x="550" y="348.5" font-family="Liberation Sans, sans-serif" font-size="16.7" fill="#1a1a1a" textLength="100.5" lengthAdjust="spacingAndGlyphs">Insole Length</text>
<text x="667" y="348.5" font-family="Liberation Sans, sans-serif" font-size="16.7" fill="#1a1a1a" textLength="121" lengthAdjust="spacingAndGlyphs">Длина стельки</text>
<text x="535.6" y="377.5" font-family="Liberation Sans, sans-serif" font-size="16.7" fill="#1a1a1a" textLength="115" lengthAdjust="spacingAndGlyphs">Outsole Length</text>
<text x="667.6" y="377.5" font-family="Liberation Sans, sans-serif" font-size="16.7" fill="#1a1a1a" textLength="133" lengthAdjust="spacingAndGlyphs">Длина подошвы</text>

<rect x="10" y="461.2" width="985" height="54.400000000000034" fill="#4f7fbd"/><rect x="10" y="461.2" width="985" height="1.2" fill="#4573b0"/><rect x="10" y="515.6" width="985" height="4" fill="#80a5d4"/><text x="457.5" y="502.6" font-family="Liberation Sans, sans-serif" font-weight="bold" stroke="#111" stroke-width="0.35" font-size="26.8" text-anchor="middle" fill="#0c0c0c">Women Shoes Size</text><text x="92.5" y="553.9" font-family="Liberation Sans, sans-serif" font-weight="bold" stroke="#111" stroke-width="0.35" font-size="19.5" text-anchor="middle" fill="#111">EUR</text><text x="92.5" y="597" font-family="Liberation Sans, sans-serif" font-weight="bold" stroke="#111" stroke-width="0.35" font-size="19" text-anchor="middle" fill="#111" textLength="111" lengthAdjust="spacingAndGlyphs">Foot Length</text><text x="92.5" y="626.4" font-family="Liberation Sans, sans-serif" font-weight="bold" stroke="#111" stroke-width="0.35" font-size="19" text-anchor="middle" fill="#111" textLength="51" lengthAdjust="spacingAndGlyphs">(mm)</text><text x="221.05" y="553.9" font-family="Liberation Sans, sans-serif" font-weight="bold" stroke="#111" stroke-width="0.35" font-size="20" text-anchor="middle" fill="#111">35</text><text x="221.05" y="608.0" font-family="Liberation Sans, sans-serif" font-weight="bold" stroke="#111" stroke-width="0.35" font-size="20" text-anchor="middle" fill="#111">225</text><text x="312.35" y="553.9" font-family="Liberation Sans, sans-serif" font-weight="bold" stroke="#111" stroke-width="0.35" font-size="20" text-anchor="middle" fill="#111">36</text><text x="312.35" y="608.0" font-family="Liberation Sans, sans-serif" font-weight="bold" stroke="#111" stroke-width="0.35" font-size="20" text-anchor="middle" fill="#111">230</text><text x="403.9" y="553.9" font-family="Liberation Sans, sans-serif" font-weight="bold" stroke="#111" stroke-width="0.35" font-size="20" text-anchor="middle" fill="#111">37</text><text x="403.9" y="608.0" font-family="Liberation Sans, sans-serif" font-weight="bold" stroke="#111" stroke-width="0.35" font-size="20" text-anchor="middle" fill="#111">235</text><text x="495.45000000000005" y="553.9" font-family="Liberation Sans, sans-serif" font-weight="bold" stroke="#111" stroke-width="0.35" font-size="20" text-anchor="middle" fill="#111">38</text><text x="495.45000000000005" y="608.0" font-family="Liberation Sans, sans-serif" font-weight="bold" stroke="#111" stroke-width="0.35" font-size="20" text-anchor="middle" fill="#111">240</text><text x="586.55" y="553.9" font-family="Liberation Sans, sans-serif" font-weight="bold" stroke="#111" stroke-width="0.35" font-size="20" text-anchor="middle" fill="#111">39</text><text x="586.55" y="608.0" font-family="Liberation Sans, sans-serif" font-weight="bold" stroke="#111" stroke-width="0.35" font-size="20" text-anchor="middle" fill="#111">245</text><text x="677.9" y="553.9" font-family="Liberation Sans, sans-serif" font-weight="bold" stroke="#111" stroke-width="0.35" font-size="20" text-anchor="middle" fill="#111">40</text><text x="677.9" y="608.0" font-family="Liberation Sans, sans-serif" font-weight="bold" stroke="#111" stroke-width="0.35" font-size="20" text-anchor="middle" fill="#111">250</text><text x="769.0999999999999" y="553.9" font-family="Liberation Sans, sans-serif" font-weight="bold" stroke="#111" stroke-width="0.35" font-size="20" text-anchor="middle" fill="#111">41</text><text x="769.0999999999999" y="608.0" font-family="Liberation Sans, sans-serif" font-weight="bold" stroke="#111" stroke-width="0.35" font-size="20" text-anchor="middle" fill="#111">255</text><text x="859.7" y="553.9" font-family="Liberation Sans, sans-serif" font-weight="bold" stroke="#111" stroke-width="0.35" font-size="20" text-anchor="middle" fill="#111">42</text><text x="859.7" y="608.0" font-family="Liberation Sans, sans-serif" font-weight="bold" stroke="#111" stroke-width="0.35" font-size="20" text-anchor="middle" fill="#111">260</text><text x="950.0" y="553.9" font-family="Liberation Sans, sans-serif" font-weight="bold" stroke="#111" stroke-width="0.35" font-size="20" text-anchor="middle" fill="#111">43</text><text x="950.0" y="608.0" font-family="Liberation Sans, sans-serif" font-weight="bold" stroke="#111" stroke-width="0.35" font-size="20" text-anchor="middle" fill="#111">265</text><line x1="175.4" y1="519.6" x2="175.4" y2="626.8" stroke="#3a3a3a" stroke-width="2" stroke-dasharray="1.8 1.8"/><line x1="266.7" y1="519.6" x2="266.7" y2="626.8" stroke="#3a3a3a" stroke-width="2" stroke-dasharray="1.8 1.8"/><line x1="358" y1="519.6" x2="358" y2="626.8" stroke="#3a3a3a" stroke-width="2" stroke-dasharray="1.8 1.8"/><line x1="449.8" y1="519.6" x2="449.8" y2="626.8" stroke="#3a3a3a" stroke-width="2" stroke-dasharray="1.8 1.8"/><line x1="541.1" y1="519.6" x2="541.1" y2="626.8" stroke="#3a3a3a" stroke-width="2" stroke-dasharray="1.8 1.8"/><line x1="632" y1="519.6" x2="632" y2="626.8" stroke="#3a3a3a" stroke-width="2" stroke-dasharray="1.8 1.8"/><line x1="723.8" y1="519.6" x2="723.8" y2="626.8" stroke="#3a3a3a" stroke-width="2" stroke-dasharray="1.8 1.8"/><line x1="814.4" y1="519.6" x2="814.4" y2="626.8" stroke="#3a3a3a" stroke-width="2" stroke-dasharray="1.8 1.8"/><line x1="905" y1="519.6" x2="905" y2="626.8" stroke="#3a3a3a" stroke-width="2" stroke-dasharray="1.8 1.8"/><rect x="9.2" y="519.6" width="2" height="108.19999999999993" fill="#6f98cc"/><rect x="993.5" y="461.2" width="2" height="166.59999999999997" fill="#6f98cc"/><rect x="10" y="571.7" width="985" height="2.6" fill="#6f98cc"/><rect x="10" y="626.5" width="985" height="2.6" fill="#6f98cc"/><rect x="10" y="656.4" width="983.6" height="52.200000000000045" fill="#4f7fbd"/><rect x="10" y="656.4" width="983.6" height="1.2" fill="#4573b0"/><rect x="10" y="708.6" width="983.6" height="4" fill="#80a5d4"/><text x="456.75" y="698.2" font-family="Liberation Sans, sans-serif" font-weight="bold" stroke="#111" stroke-width="0.35" font-size="26.8" text-anchor="middle" fill="#0c0c0c">Men Shoes Size</text><text x="92.5" y="746.7" font-family="Liberation Sans, sans-serif" font-weight="bold" stroke="#111" stroke-width="0.35" font-size="19.5" text-anchor="middle" fill="#111">EUR</text><text x="92.5" y="789.6" font-family="Liberation Sans, sans-serif" font-weight="bold" stroke="#111" stroke-width="0.35" font-size="19" text-anchor="middle" fill="#111" textLength="111" lengthAdjust="spacingAndGlyphs">Foot Length</text><text x="92.5" y="819.0" font-family="Liberation Sans, sans-serif" font-weight="bold" stroke="#111" stroke-width="0.35" font-size="19" text-anchor="middle" fill="#111" textLength="51" lengthAdjust="spacingAndGlyphs">(mm)</text><text x="220.5" y="746.7" font-family="Liberation Sans, sans-serif" font-weight="bold" stroke="#111" stroke-width="0.35" font-size="20" text-anchor="middle" fill="#111">39</text><text x="220.5" y="800.4" font-family="Liberation Sans, sans-serif" font-weight="bold" stroke="#111" stroke-width="0.35" font-size="20" text-anchor="middle" fill="#111">245</text><text x="311.5" y="746.7" font-family="Liberation Sans, sans-serif" font-weight="bold" stroke="#111" stroke-width="0.35" font-size="20" text-anchor="middle" fill="#111">40</text><text x="311.5" y="800.4" font-family="Liberation Sans, sans-serif" font-weight="bold" stroke="#111" stroke-width="0.35" font-size="20" text-anchor="middle" fill="#111">250</text><text x="402.6" y="746.7" font-family="Liberation Sans, sans-serif" font-weight="bold" stroke="#111" stroke-width="0.35" font-size="20" text-anchor="middle" fill="#111">41</text><text x="402.6" y="800.4" font-family="Liberation Sans, sans-serif" font-weight="bold" stroke="#111" stroke-width="0.35" font-size="20" text-anchor="middle" fill="#111">255</text><text x="493.85" y="746.7" font-family="Liberation Sans, sans-serif" font-weight="bold" stroke="#111" stroke-width="0.35" font-size="20" text-anchor="middle" fill="#111">42</text><text x="493.85" y="800.4" font-family="Liberation Sans, sans-serif" font-weight="bold" stroke="#111" stroke-width="0.35" font-size="20" text-anchor="middle" fill="#111">260</text><text x="585.15" y="746.7" font-family="Liberation Sans, sans-serif" font-weight="bold" stroke="#111" stroke-width="0.35" font-size="20" text-anchor="middle" fill="#111">43</text><text x="585.15" y="800.4" font-family="Liberation Sans, sans-serif" font-weight="bold" stroke="#111" stroke-width="0.35" font-size="20" text-anchor="middle" fill="#111">265</text><text x="676.4" y="746.7" font-family="Liberation Sans, sans-serif" font-weight="bold" stroke="#111" stroke-width="0.35" font-size="20" text-anchor="middle" fill="#111">44</text><text x="676.4" y="800.4" font-family="Liberation Sans, sans-serif" font-weight="bold" stroke="#111" stroke-width="0.35" font-size="20" text-anchor="middle" fill="#111">270</text><text x="767.65" y="746.7" font-family="Liberation Sans, sans-serif" font-weight="bold" stroke="#111" stroke-width="0.35" font-size="20" text-anchor="middle" fill="#111">45</text><text x="767.65" y="800.4" font-family="Liberation Sans, sans-serif" font-weight="bold" stroke="#111" stroke-width="0.35" font-size="20" text-anchor="middle" fill="#111">275</text><text x="858.4" y="746.7" font-family="Liberation Sans, sans-serif" font-weight="bold" stroke="#111" stroke-width="0.35" font-size="20" text-anchor="middle" fill="#111">46</text><text x="858.4" y="800.4" font-family="Liberation Sans, sans-serif" font-weight="bold" stroke="#111" stroke-width="0.35" font-size="20" text-anchor="middle" fill="#111">280</text><text x="948.55" y="746.7" font-family="Liberation Sans, sans-serif" font-weight="bold" stroke="#111" stroke-width="0.35" font-size="20" text-anchor="middle" fill="#111">47</text><text x="948.55" y="800.4" font-family="Liberation Sans, sans-serif" font-weight="bold" stroke="#111" stroke-width="0.35" font-size="20" text-anchor="middle" fill="#111">285</text><line x1="175" y1="712.6" x2="175" y2="819" stroke="#3a3a3a" stroke-width="2" stroke-dasharray="1.8 1.8"/><line x1="266" y1="712.6" x2="266" y2="819" stroke="#3a3a3a" stroke-width="2" stroke-dasharray="1.8 1.8"/><line x1="357" y1="712.6" x2="357" y2="819" stroke="#3a3a3a" stroke-width="2" stroke-dasharray="1.8 1.8"/><line x1="448.2" y1="712.6" x2="448.2" y2="819" stroke="#3a3a3a" stroke-width="2" stroke-dasharray="1.8 1.8"/><line x1="539.5" y1="712.6" x2="539.5" y2="819" stroke="#3a3a3a" stroke-width="2" stroke-dasharray="1.8 1.8"/><line x1="630.8" y1="712.6" x2="630.8" y2="819" stroke="#3a3a3a" stroke-width="2" stroke-dasharray="1.8 1.8"/><line x1="722" y1="712.6" x2="722" y2="819" stroke="#3a3a3a" stroke-width="2" stroke-dasharray="1.8 1.8"/><line x1="813.3" y1="712.6" x2="813.3" y2="819" stroke="#3a3a3a" stroke-width="2" stroke-dasharray="1.8 1.8"/><line x1="903.5" y1="712.6" x2="903.5" y2="819" stroke="#3a3a3a" stroke-width="2" stroke-dasharray="1.8 1.8"/><rect x="9.2" y="712.6" width="2" height="107.39999999999998" fill="#6f98cc"/><rect x="992.1" y="656.4" width="2" height="163.60000000000002" fill="#6f98cc"/><rect x="10" y="764.3000000000001" width="983.6" height="2.6" fill="#6f98cc"/><rect x="10" y="818.7" width="983.6" height="2.6" fill="#6f98cc"/>
<text x="60.5" y="878.4" font-family="Liberation Sans, sans-serif" font-weight="bold" font-size="26.5" fill="#1c1c1c" stroke="#1c1c1c" stroke-width="0.15" textLength="93" lengthAdjust="spacingAndGlyphs">Notice:</text><text x="85.4" y="917.4" font-family="Liberation Sans, sans-serif" font-size="20" fill="#2e2e2e" textLength="560" xml:space="preserve"><tspan font-size="15.5" y="917.4">1</tspan><tspan y="917.4">.Please allow </tspan><tspan font-size="15.5" y="917.4">0</tspan><tspan y="917.4">.</tspan><tspan font-size="15.5" y="920.4">5</tspan><tspan y="917.4">cm error due to the Manual Measurement;</tspan></text><text x="85.4" y="946.5" font-family="Liberation Sans, sans-serif" font-size="20" fill="#2e2e2e" textLength="553" xml:space="preserve"><tspan font-size="15.5" y="946.5">2</tspan><tspan y="946.5">.Please choose the size only according to your foot length;</tspan></text><text x="85.4" y="976.5" font-family="Liberation Sans, sans-serif" font-size="20" fill="#2e2e2e" textLength="374.6" xml:space="preserve"><tspan font-size="15.5" y="979.5">3</tspan><tspan y="976.5">.If your foot is thick or wide,we suggest</tspan></text><text x="470.7" y="976.5" font-family="Liberation Sans, sans-serif" font-size="21" fill="#555" textLength="36.8">you</text><text x="516" y="976.5" font-family="Liberation Sans, sans-serif" font-size="20" fill="#2e2e2e" textLength="157.4">choose size large</text>
</svg>
</body></html>
